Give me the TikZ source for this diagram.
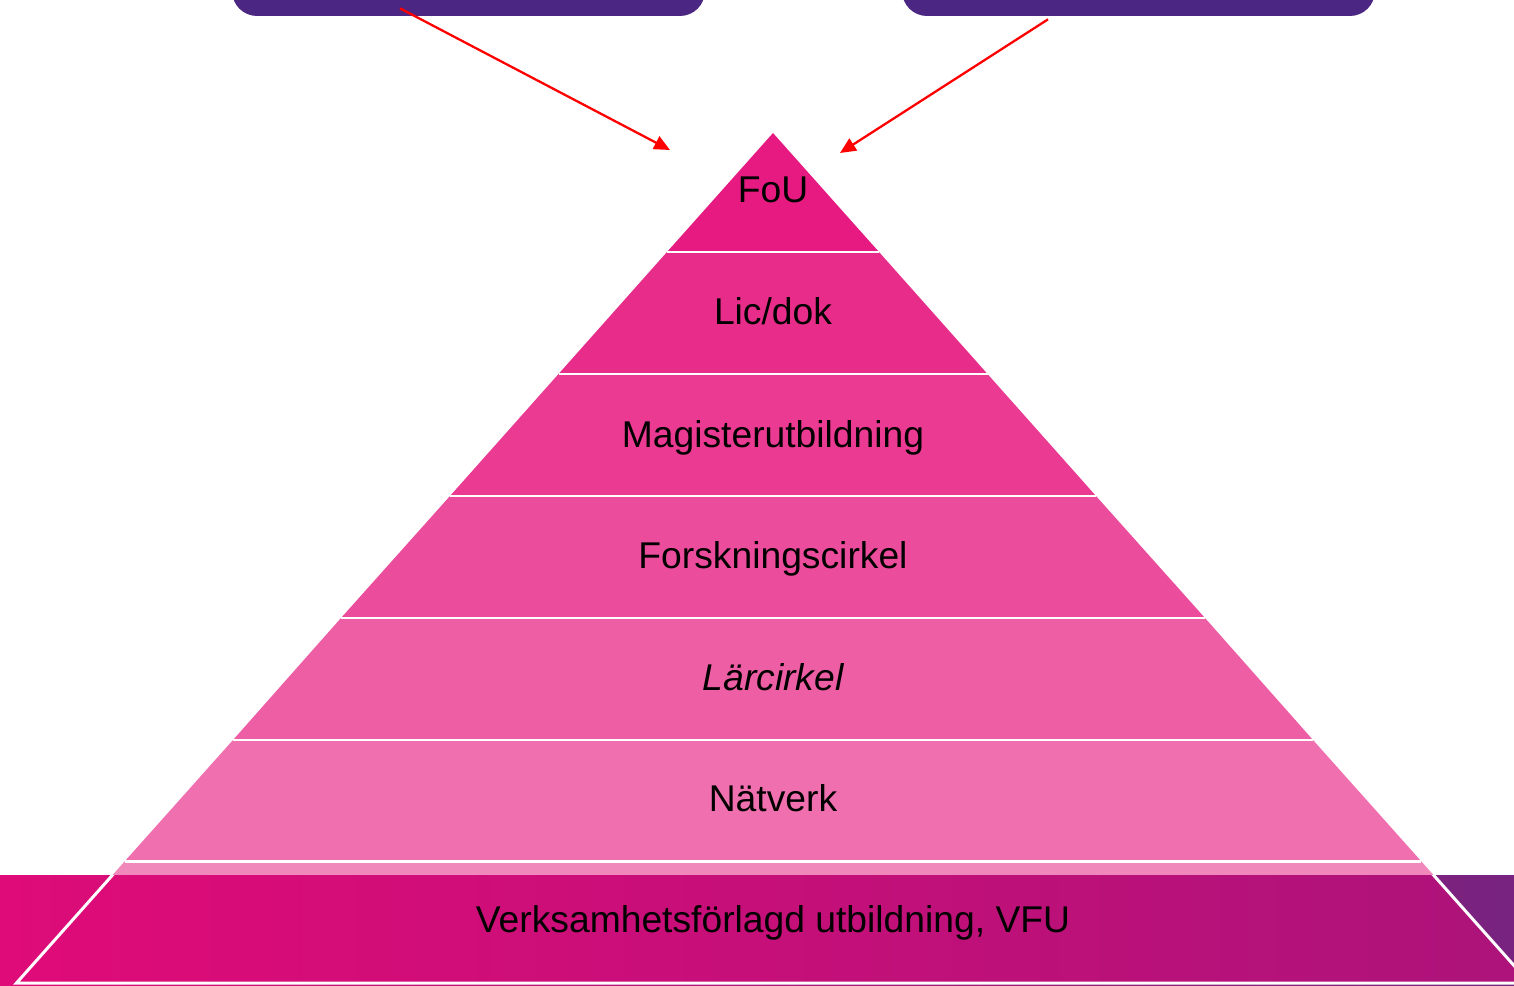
\documentclass[tikz,border=0pt]{standalone}
\usepackage{fontspec}
\setmainfont{Liberation Sans}
\usetikzlibrary{arrows.meta,calc}

\definecolor{boxpurple}{HTML}{4B2683}
\definecolor{fouc}{HTML}{E61A81}
\definecolor{licc}{HTML}{E82C8A}
\definecolor{magc}{HTML}{EA3A92}
\definecolor{forsc}{HTML}{EB4C9C}
\definecolor{larc}{HTML}{ED5EA5}
\definecolor{natc}{HTML}{F06FAF}
\definecolor{vfuc}{HTML}{F088BC}
\definecolor{bandl}{HTML}{DF0B78}
\definecolor{bandr}{HTML}{77237F}
\definecolor{trapr}{HTML}{AC137A}

\begin{document}
\begin{tikzpicture}[x=0.02cm, y=-0.02cm,
  label/.style={font=\fontsize{21.2pt}{25pt}\selectfont, anchor=base, text=black, inner sep=0pt},
  topbox/.style={fill=boxpurple, rounded corners=0.5cm, minimum width=9.46cm, minimum height=2cm, inner sep=0pt},
  pointer/.style={draw=red, line width=1.3pt, -{Triangle[length=9pt,width=8pt]}},
  sep/.style={white, line width=1.7pt}]
\useasboundingbox (0,0) rectangle (1514,986);
\clip (0,0) rectangle (1514,986);

% boxes at the top
\node[topbox] (boxL) at (468.5,-34) {};
\node[topbox] (boxR) at (1138.5,-34) {};

% pyramid layers
\fill[fouc]  (773,133) -- (879,252) -- (667,252) -- cycle;
\fill[licc]  (667,252) -- (879,252) -- (987.5,374) -- (558.5,374) -- cycle;
\fill[magc]  (558.5,374) -- (987.5,374) -- (1096,496) -- (450,496) -- cycle;
\fill[forsc] (450,496) -- (1096,496) -- (1205,618) -- (341,618) -- cycle;
\fill[larc]  (341,618) -- (1205,618) -- (1313,740) -- (233,740) -- cycle;
\fill[natc]  (233,740) -- (1313,740) -- (1421,861) -- (125,861) -- cycle;
\fill[vfuc]  (125,861) -- (1421,861) -- (1529.5,983) -- (16.5,983) -- cycle;

% band at the bottom
\begin{scope}
  \clip (0,875) rectangle (1514,986);
  \fill[left color=bandl, right color=bandr] (0,875) rectangle (1514,986);
  \path[left color=bandl, right color=trapr] (125,861) -- (1421,861) -- (1529.5,983) -- (16.5,983) -- cycle;
  \draw[sep] (125,861) -- (16.5,983) -- (1529.5,983) -- (1421,861);
\end{scope}

% separators
\draw[sep] (667,252) -- (879,252);
\draw[sep] (558.5,374) -- (987.5,374);
\draw[sep] (450,496) -- (1096,496);
\draw[sep] (341,618) -- (1205,618);
\draw[sep] (233,740) -- (1313,740);
\draw[sep] (125,861) -- (1421,861);

% labels
\node[label] (fou)  at (773,203) {FoU};
\node[label] (lic)  at (773,325) {Lic/dok};
\node[label] (mag)  at (773,447) {Magisterutbildning};
\node[label] (fors) at (773,568) {Forskningscirkel};
\node[label] (lar)  at (773,690) {\itshape Lärcirkel};
\node[label] (nat)  at (773,811) {Nätverk};
\node[label] (vfu)  at (773,932) {Verksamhetsförlagd utbildning, VFU};

% arrows
\coordinate (tipL) at (670,150);
\coordinate (tipR) at (840,153);
\draw[pointer] ($(boxL.south)+(-68.5,-8)$) -- (tipL);
\draw[pointer] ($(boxR.south)+(-90.5,3)$) -- (tipR);

\end{tikzpicture}
\end{document}
